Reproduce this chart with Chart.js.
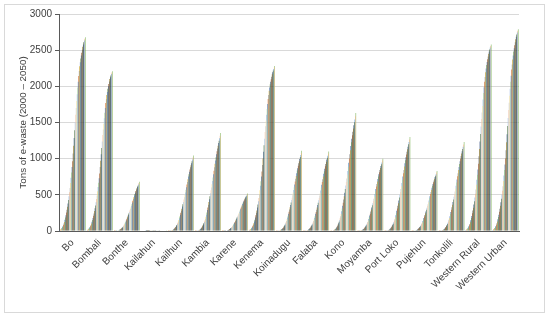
<!DOCTYPE html>
<html>
<head>
<meta charset="utf-8">
<script src="https://cdn.jsdelivr.net/npm/chart.js@4.4.1/dist/chart.umd.min.js"></script>
<style>
html,body{margin:0;padding:0;background:#fff;}
#wrap{position:relative;width:550px;height:318px;}
#frame{position:absolute;left:4px;top:4px;width:541px;height:309px;border:1px solid #D9D9D9;box-sizing:border-box;pointer-events:none;}
canvas{position:absolute;left:0;top:0;}
</style>
</head>
<body>
<div id="wrap"><canvas id="c" width="550" height="318"></canvas><div id="frame"></div></div>
<script>
const years = [2000,2001,2002,2003,2004,2005,2006,2007,2008,2009,2010,2011,2012,2013,2014,2015,2016,2017,2018,2019,2020,2021,2022,2023,2024,2025,2026,2027,2028,2029,2030,2031,2032,2033,2034,2035,2036,2037,2038,2039,2040,2041,2042,2043,2044,2045,2046,2047,2048,2049,2050];
const districts = ['Bo','Bombali','Bonthe','Kailahun','Kailhun','Kambia','Karene','Kenema','Koinadugu','Falaba','Kono','Moyamba','Port Loko','Pujehun','Tonkolili','Western Rural','Western Urban'];
const yTicks = [0,500,1000,1500,2000,2500,3000];

const bo = [13,19,24,32,40,54,67,83,102,126,155,185,217,255,295,335,381,429,482,536,595,665,737,809,884,965,1072,1179,1286,1394,1501,1608,1702,1796,1889,1983,2064,2144,2211,2278,2332,2385,2425,2466,2506,2546,2578,2608,2634,2659,2680];
const bombali = [11,15,20,27,33,44,55,69,84,104,128,152,179,210,243,276,314,354,398,442,491,548,608,667,729,796,884,972,1061,1149,1238,1326,1403,1481,1558,1635,1702,1768,1823,1879,1923,1967,2000,2033,2066,2100,2126,2150,2172,2192,2210];
const bonthe = [0,1,1,2,3,3,5,6,7,10,12,16,20,24,31,37,45,53,63,73,85,99,114,129,146,163,182,201,221,241,262,282,303,325,347,371,394,418,442,466,490,511,532,553,573,592,610,627,643,662,680];
const kailahun = [0,0,0,0,0,0,0,0,0,0,1,1,1,1,1,1,1,2,2,2,2,2,2,3,3,3,3,3,4,4,4,4,4,5,5,5,5,5,6,6,6,6,7,7,7,7,8,8,8,8,9];
const kailhun = [0,1,2,3,4,5,7,9,11,15,19,24,30,38,47,57,69,82,96,113,131,152,175,199,225,251,280,309,340,371,402,434,465,500,533,570,606,643,679,716,752,786,818,850,880,909,937,963,989,1017,1045];
const kambia = [0,1,3,4,5,7,9,12,15,19,24,31,39,49,61,75,89,106,125,146,169,196,226,257,291,325,363,401,440,481,522,562,603,648,691,738,786,833,881,928,976,1019,1061,1102,1141,1179,1215,1249,1282,1318,1355];
const karene = [0,1,1,2,2,3,4,5,6,7,9,12,15,19,23,29,34,41,48,56,65,75,87,99,112,125,139,154,169,185,200,216,231,249,265,283,302,320,338,356,374,391,407,423,438,452,466,479,492,506,520];
const kenema = [11,16,21,27,34,46,57,71,87,107,132,157,185,217,251,285,324,365,410,456,506,565,627,689,752,821,912,1003,1094,1186,1277,1368,1448,1528,1607,1687,1756,1824,1881,1938,1984,2029,2063,2098,2132,2166,2193,2218,2241,2262,2280];
const koinadugu = [0,1,2,3,4,6,8,10,12,16,20,26,32,40,50,61,73,87,102,120,139,161,185,211,239,266,297,329,361,394,427,461,494,531,566,605,644,683,722,760,799,835,869,902,935,966,996,1023,1050,1080,1110];
const falaba = [0,1,2,3,4,6,8,10,12,15,20,25,32,40,50,61,73,86,101,119,138,160,184,209,237,264,295,326,358,391,424,457,490,526,561,600,638,677,715,754,792,827,861,894,926,957,987,1014,1041,1070,1100];
const kono = [0,2,3,5,7,8,11,15,18,23,29,37,47,59,73,90,108,127,150,176,204,236,272,310,350,391,437,482,530,579,628,676,725,779,831,888,945,1002,1060,1117,1174,1226,1276,1325,1372,1418,1462,1503,1542,1586,1630];
const moyamba = [0,1,2,3,4,5,7,9,11,14,18,23,29,36,45,55,66,78,92,108,125,145,167,190,215,240,268,296,325,355,385,415,445,478,510,545,580,615,650,685,720,752,783,813,842,870,897,922,946,973,1000];
const portLoko = [0,1,3,4,5,7,9,12,14,18,23,30,38,47,59,72,86,101,120,140,163,189,217,247,280,312,348,385,423,462,501,540,579,621,663,709,754,800,845,891,936,978,1018,1057,1095,1131,1166,1199,1230,1265,1300];
const pujehun = [0,1,2,2,3,4,6,7,9,12,15,19,24,30,37,46,55,65,76,90,104,120,139,158,178,199,222,246,270,295,320,344,369,397,423,452,481,510,540,569,598,624,650,675,699,722,745,765,785,808,830];
const tonkolili = [0,1,2,4,5,6,9,11,14,17,22,28,36,44,55,68,81,96,113,133,154,178,205,234,264,295,330,364,400,437,474,510,547,588,627,670,713,756,800,843,886,925,963,1000,1036,1070,1103,1134,1164,1197,1230];
const westernRural = [13,18,23,31,39,52,65,80,98,121,150,178,209,245,284,323,366,413,464,516,573,640,710,779,851,929,1032,1135,1238,1342,1445,1548,1638,1729,1819,1909,1987,2064,2129,2193,2245,2296,2335,2374,2412,2451,2482,2510,2536,2559,2580];
const westernUrban = [14,20,25,33,42,56,70,86,106,131,162,193,226,265,307,349,396,446,502,558,619,692,767,843,921,1004,1116,1228,1339,1451,1562,1674,1772,1869,1967,2065,2148,2232,2302,2372,2427,2483,2525,2567,2609,2651,2684,2715,2743,2768,2790];

const byDistrict = [bo,bombali,bonthe,kailahun,kailhun,kambia,karene,kenema,koinadugu,falaba,kono,moyamba,portLoko,pujehun,tonkolili,westernRural,westernUrban];

const palette = [
'#5B9BD5','#ED7D31','#A5A5A5','#FFC000','#4472C4','#70AD47',
'#327DC2','#C55A11','#7B7B7B','#BF9000','#2F5597','#548235',
'#1F4E79','#843C0C','#525252','#7F6000','#203864','#385723',
'#7CAFDD','#F4B183','#B7B7B7','#FFD966','#698ED0','#8CC168',
'#255E91','#9E480E','#636363','#997300','#264478','#43682B',
'#9DC3E6','#F8CBAD','#C9C9C9','#FFE699','#8FAADC','#A9D18E',
'#2E75B6','#D26012','#848484','#CC9A00','#3A5DAE','#5A8A39',
'#1F4E79','#843C0C','#525252','#7F6000','#203864','#385723',
'#5B9BD5','#F4B183','#70AD47'];

const datasets = years.map((yr, j) => ({
  label: String(yr),
  data: byDistrict.map(arr => arr[j]),
  backgroundColor: palette[j % palette.length],
  borderWidth: 0,
  barPercentage: 1.0,
  categoryPercentage: 0.96
}));

const FONT = '"Liberation Sans", Arial, sans-serif';
const TXT = '#404040';

new Chart(document.getElementById('c'), {
  type: 'bar',
  data: { labels: districts, datasets },
  options: {
    responsive: false,
    animation: false,
    devicePixelRatio: 1,
    layout: { padding: { left: 5, right: 31, top: 14, bottom: 5 } },
    plugins: { legend: { display: false }, tooltip: { enabled: false } },
    scales: {
      x: {
        grid: { display: false, drawTicks: false },
        border: { display: true, color: '#595959', width: 1 },
        ticks: { minRotation: 45, maxRotation: 45, autoSkip: false, color: TXT, font: { size: 10, family: FONT }, padding: 6 },
        afterFit: s => { s.height = 82; }
      },
      y: {
        min: 0, max: 3000,
        afterBuildTicks: s => { s.ticks = yTicks.map(v => ({ value: v })); },
        ticks: { color: TXT, font: { size: 10, family: FONT }, padding: 3, callback: v => String(v) },
        grid: { color: '#D9D9D9', tickLength: 4, tickColor: '#595959', lineWidth: 1 },
        border: { display: true, color: '#595959', width: 1 },
        title: { display: true, text: 'Tons of e-waste (2000 – 2050)', color: TXT, font: { size: 9.8, family: FONT }, padding: { top: 12, bottom: 0 } },
        afterFit: s => { s.width = 54; }
      }
    }
  }
});
</script>
</body>
</html>
